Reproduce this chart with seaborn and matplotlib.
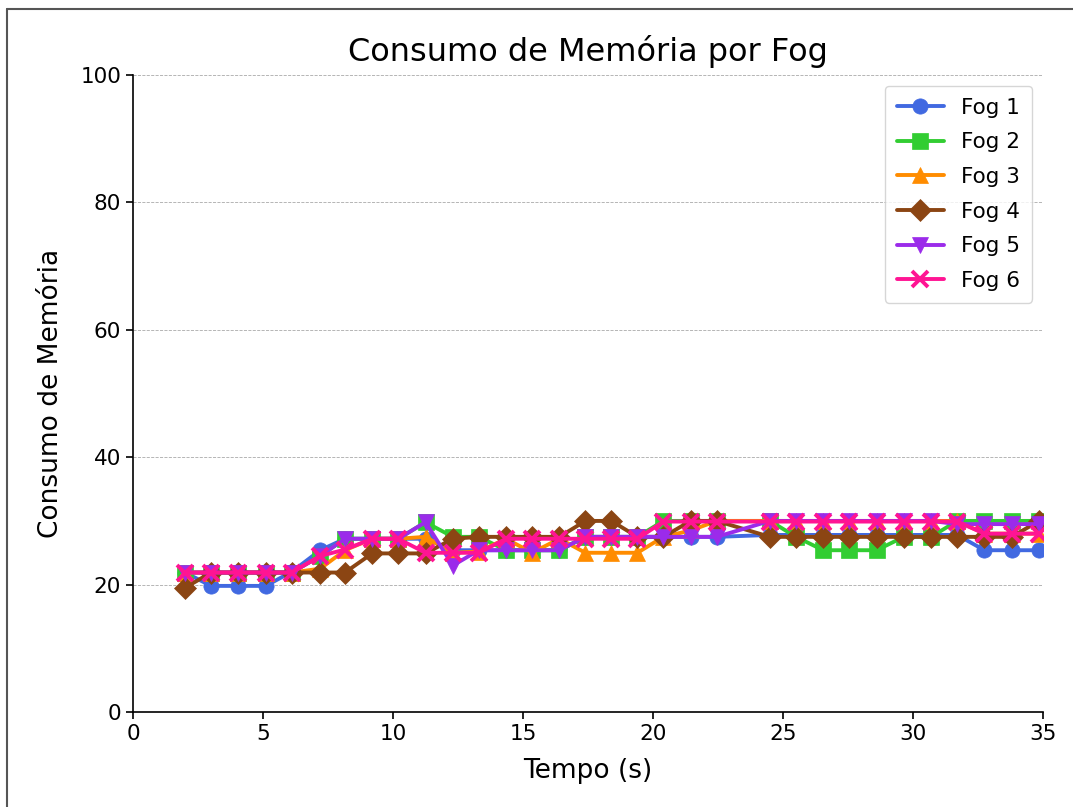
import matplotlib
matplotlib.use("Agg")
import matplotlib.pyplot as plt
import seaborn as sns
import pandas as pd
from matplotlib.lines import Line2D

# tempo (s) das amostras
tempo = [2.0, 3.0, 4.05, 5.1, 6.1, 7.2, 8.15, 9.2, 10.2, 11.25, 12.3, 13.3, 14.35, 15.35, 16.4, 17.4,
         18.4, 19.4, 20.4, 21.45, 22.45, 24.5, 25.5, 26.55, 27.55, 28.6, 29.65, 30.7, 31.7, 32.75, 33.8, 34.85]

fog1 = [21.9, 19.8, 19.8, 19.8, 22.0, 25.4, 27.2, 27.2, 27.2, 27.2, 25.4, 25.4, 25.4, 25.4, 25.4, 27.5,
        27.5, 27.5, 27.5, 27.5, 27.5, 27.8, 27.8, 27.8, 27.8, 27.8, 27.8, 27.8, 27.8, 25.4, 25.4, 25.4]
fog2 = [21.9, 21.9, 21.9, 21.9, 21.9, 24.5, 27.2, 27.2, 27.2, 29.8, 27.5, 27.5, 25.4, 25.4, 25.4, 27.5,
        27.5, 27.5, 30.0, 30.0, 30.0, 30.0, 27.5, 25.4, 25.4, 25.4, 27.5, 27.5, 30.0, 30.0, 30.0, 30.0]
fog3 = [21.9, 21.9, 21.9, 21.9, 21.9, 22.5, 25.4, 27.2, 27.2, 27.5, 25.0, 25.2, 27.2, 25.0, 27.2, 25.0,
        25.0, 25.0, 27.5, 28.5, 30.0, 30.0, 30.0, 30.0, 30.0, 30.0, 30.0, 30.0, 30.0, 28.0, 28.0, 28.0]
fog4 = [19.5, 21.9, 21.9, 21.9, 21.9, 21.9, 21.9, 24.9, 24.9, 24.9, 27.2, 27.5, 27.5, 27.5, 27.5, 30.0,
        30.0, 27.5, 27.5, 30.0, 30.0, 27.5, 27.5, 27.5, 27.5, 27.5, 27.5, 27.5, 27.5, 27.5, 27.5, 30.0]
fog5 = [21.9, 21.9, 21.9, 21.9, 21.9, 24.5, 27.2, 27.2, 27.2, 29.8, 23.0, 25.4, 25.4, 25.4, 25.4, 27.5,
        27.5, 27.5, 27.5, 27.5, 27.5, 30.0, 30.0, 30.0, 30.0, 30.0, 30.0, 30.0, 29.5, 29.5, 29.5, 29.5]
fog6 = [21.9, 21.9, 21.9, 21.9, 21.9, 24.5, 25.5, 27.2, 27.2, 25.0, 25.0, 25.0, 27.2, 27.2, 27.2, 27.2,
        27.2, 27.2, 29.9, 29.9, 29.9, 29.9, 29.9, 29.9, 29.9, 29.9, 29.9, 29.9, 29.9, 28.0, 28.0, 28.0]

nomes = ["Fog 1", "Fog 2", "Fog 3", "Fog 4", "Fog 5", "Fog 6"]
cores = ["#4169E1", "#32CD32", "#FF8C00", "#8B4513", "#9B2BEA", "#FF1493"]
marcadores = ["o", "s", "^", "D", "v", "x"]

sns.set_style("white")
plt.rcParams["font.family"] = ["DejaVu Sans"]
plt.rcParams["text.color"] = "black"
plt.rcParams["axes.labelcolor"] = "black"
plt.rcParams["xtick.color"] = "black"
plt.rcParams["ytick.color"] = "black"

fig = plt.figure(figsize=(10.73, 8.07), dpi=100)
ax = fig.add_axes([0.124, 0.1177, 0.848, 0.7893])

for nome, serie, cor, mk in zip(nomes, [fog1, fog2, fog3, fog4, fog5, fog6], cores, marcadores):
    df = pd.DataFrame({"tempo": tempo, "memoria": serie})
    sns.lineplot(data=df, x="tempo", y="memoria", ax=ax, color=cor, marker=mk, label=nome,
                 linewidth=2.8, markersize=11, markeredgecolor=cor,
                 markeredgewidth=2.8 if mk == "x" else 0.5)

ax.set_xlim(0, 35)
ax.set_ylim(0, 100)
ax.set_xticks(range(0, 36, 5))
ax.set_yticks(range(0, 101, 20))
ax.tick_params(axis="both", labelsize=15.5, length=5, width=1.2, left=True, bottom=True)
ax.yaxis.grid(True, linestyle="--", linewidth=0.6, color="#aaaaaa")
ax.xaxis.grid(False)
sns.despine(ax=ax)
for s in ["left", "bottom"]:
    ax.spines[s].set_color("black")
    ax.spines[s].set_linewidth(1.2)

ax.set_title("Consumo de Memória por Fog", fontsize=23, pad=10)
ax.set_xlabel("Tempo (s)", fontsize=19, labelpad=10)
ax.set_ylabel("Consumo de Memória", fontsize=19, labelpad=12)

leg = ax.legend(loc="upper right", fontsize=15.5, frameon=True, borderpad=0.55,
                handlelength=2.2, labelspacing=0.68)
leg.get_frame().set_edgecolor("#cccccc")

# moldura da figura no documento
fig.add_artist(Line2D([7 / 1073, 7 / 1073], [0, 1 - 9 / 807], color="#555555", linewidth=1.5))
fig.add_artist(Line2D([7 / 1073, 1], [1 - 9 / 807, 1 - 9 / 807], color="#555555", linewidth=1.5))

fig.savefig("out.png", dpi=100)
